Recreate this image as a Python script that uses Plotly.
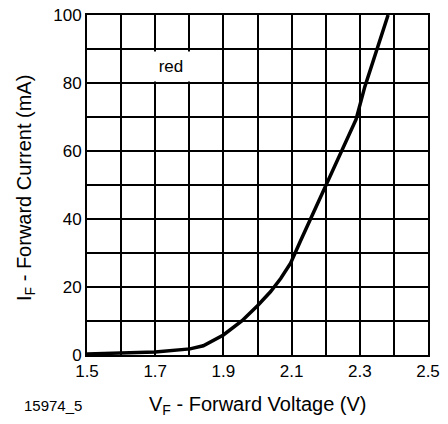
import plotly.graph_objects as go

voltage = [1.5, 1.6, 1.7, 1.802, 1.841, 1.9, 1.954, 2.0, 2.038, 2.068, 2.097, 2.125,
           2.154, 2.2, 2.244, 2.289, 2.315, 2.348, 2.383]
current = [0.3, 0.5, 0.9, 1.8, 2.7, 5.9, 10.0, 14.5, 18.6, 22.5, 27.0, 33.3,
           39.6, 49.5, 59.5, 69.3, 79.0, 89.0, 100.0]

x_ticks = [1.5, 1.7, 1.9, 2.1, 2.3, 2.5]
y_ticks = [0, 20, 40, 60, 80, 100]

FONT = "Liberation Sans, Arial, Helvetica, sans-serif"

W, H = 448, 424
ML, MR, MT, MB = 87, 20, 15, 69

fig = go.Figure()
fig.add_trace(go.Scatter(x=voltage, y=current, mode="lines",
                         line=dict(color="black", width=3.5),
                         showlegend=False, hoverinfo="skip"))

axis_common = dict(showline=True, linecolor="black", linewidth=2, mirror=True,
                   showgrid=True, gridcolor="black", gridwidth=1.5,
                   ticks="", zeroline=False, automargin=False,
                   tickfont=dict(family=FONT, size=17, color="black"))

fig.update_xaxes(range=[1.5, 2.5], tickvals=x_ticks, ticktext=[f"{v:.1f}" for v in x_ticks],
                 minor=dict(dtick=0.1, tick0=1.5, showgrid=True, gridcolor="black", gridwidth=1.5),
                 **axis_common)
fig.update_yaxes(range=[0, 100], tickvals=y_ticks, ticktext=[str(v) for v in y_ticks],
                 minor=dict(dtick=10, tick0=0, showgrid=True, gridcolor="black", gridwidth=1.5),
                 **axis_common)

pw, ph = W - ML - MR, H - MT - MB


def px(xp):
    return (xp - ML) / pw


def py(yp):
    return 1 - (yp - MT) / ph


fig.add_annotation(x=1.746, y=84.8, xref="x", yref="y", text="red", showarrow=False,
                   font=dict(family=FONT, size=17, color="black"),
                   bgcolor="white", width=78, height=27)
fig.add_annotation(x=px(22), y=py(405), xref="paper", yref="paper", text="15974_5",
                   showarrow=False, font=dict(family=FONT, size=15, color="black"),
                   xanchor="left", yanchor="middle")
fig.add_annotation(x=px(258), y=py(406), xref="paper", yref="paper",
                   text="V<sub>F</sub> - Forward Voltage (V)", showarrow=False,
                   font=dict(family=FONT, size=20, color="black"),
                   xanchor="center", yanchor="middle")
fig.add_annotation(x=px(25), y=py(188), xref="paper", yref="paper",
                   text="I<sub>F</sub> - Forward Current (mA)", showarrow=False, textangle=-90,
                   font=dict(family=FONT, size=20, color="black"),
                   xanchor="center", yanchor="middle")

fig.update_layout(width=W, height=H, margin=dict(l=ML, r=MR, t=MT, b=MB),
                  paper_bgcolor="white", plot_bgcolor="white")

fig.write_html("out.html", config={"displayModeBar": False})

with open("out.html", "r", encoding="utf-8") as f:
    html = f.read()
html = html.replace("<head>", "<head><style>html,body{margin:0;padding:0;overflow:hidden;}</style>", 1)
with open("out.html", "w", encoding="utf-8") as f:
    f.write(html)
